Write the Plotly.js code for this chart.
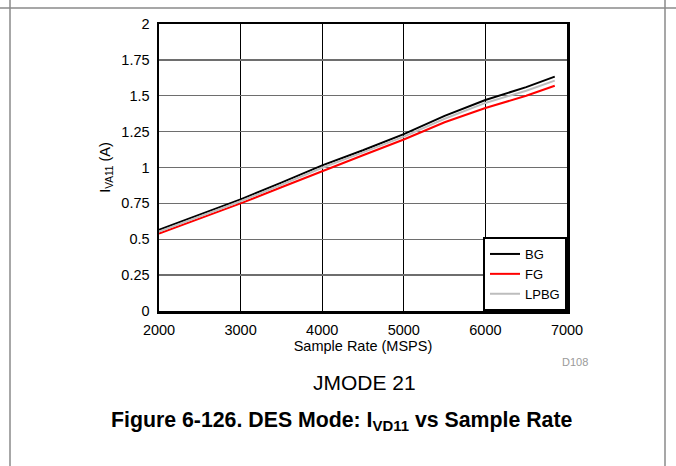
<!DOCTYPE html>
<html>
<head>
<meta charset="utf-8">
<script src="https://cdn.plot.ly/plotly-3.0.1.min.js"></script>
<style>html,body{margin:0;padding:0;background:#fff;}#chart{width:676px;height:466px;}</style>
</head>
<body>
<div id="chart"></div>
<script>
const sampleRate = [2000, 2500, 3000, 3500, 4000, 4500, 5000, 5500, 6000, 6500, 6850];
const bg   = [0.565, 0.670, 0.778, 0.895, 1.015, 1.120, 1.233, 1.360, 1.470, 1.560, 1.633];
const fg   = [0.540, 0.645, 0.750, 0.862, 0.975, 1.085, 1.195, 1.315, 1.415, 1.500, 1.570];
const lpbg = [0.553, 0.660, 0.765, 0.880, 0.998, 1.105, 1.215, 1.340, 1.450, 1.535, 1.605];
const seriesNames = ['BG', 'FG', 'LPBG'];
const xTicks = [2000, 3000, 4000, 5000, 6000, 7000];
const yTicks = [0, 0.25, 0.5, 0.75, 1, 1.25, 1.5, 1.75, 2];
const yTickText = ['0', '0.25', '0.5', '0.75', '1', '1.25', '1.5', '1.75', '2'];

const FONT = 'Liberation Sans, Arial, sans-serif';
const L = 159, R = 567, T = 24, B = 311, W = 676, H = 466;
const px = v => (v - L) / (R - L);
const py = v => (B - v) / (B - T);

const traces = [
  {x: sampleRate, y: bg,   name: seriesNames[0], mode: 'lines', line: {color: '#000000', width: 2}},
  {x: sampleRate, y: fg,   name: seriesNames[1], mode: 'lines', line: {color: '#ff0000', width: 2}},
  {x: sampleRate, y: lpbg, name: seriesNames[2], mode: 'lines', line: {color: '#bdbdbd', width: 2}}
];
const layout = {
  width: W, height: H,
  margin: {l: L, r: W - R, t: T, b: H - B},
  paper_bgcolor: '#ffffff', plot_bgcolor: '#ffffff',
  font: {family: FONT, size: 14, color: '#000'},
  showlegend: true,
  legend: {
    x: 1, y: 0, xanchor: 'right', yanchor: 'bottom',
    bgcolor: '#ffffff', bordercolor: '#000000', borderwidth: 2,
    font: {family: FONT, size: 13, color: '#000'},
    itemwidth: 30, tracegroupgap: 0
  },
  xaxis: {
    range: [2000, 7000], tickvals: xTicks, ticks: '', ticklabelstandoff: 4,
    showgrid: true, gridcolor: '#000000', gridwidth: 1,
    showline: true, linecolor: '#000', linewidth: 2.5, mirror: true,
    zeroline: false, tickfont: {family: FONT, size: 14.5, color: '#000'},
    title: {text: 'Sample Rate (MSPS)', font: {family: FONT, size: 14.5, color: '#000'}, standoff: 0}
  },
  yaxis: {
    range: [0, 2], tickvals: yTicks, ticktext: yTickText, ticks: '', ticklabelstandoff: 4,
    showgrid: true, gridcolor: '#6e6e6e', gridwidth: 1.3,
    showline: true, linecolor: '#000', linewidth: 2.5, mirror: true,
    zeroline: false, tickfont: {family: FONT, size: 14.5, color: '#000'},
    title: {text: 'I<sub>VA11</sub> (A)', font: {family: FONT, size: 14.5, color: '#000'}, standoff: 8}
  },
  shapes: [
    {type: 'line', xref: 'paper', yref: 'paper', x0: px(0), x1: px(676), y0: py(8), y1: py(8), line: {color: '#8a8a8a', width: 1.5}},
    {type: 'line', xref: 'paper', yref: 'paper', x0: px(10), x1: px(10), y0: py(0), y1: py(466), line: {color: '#8a8a8a', width: 1.5}},
    {type: 'line', xref: 'paper', yref: 'paper', x0: px(665), x1: px(665), y0: py(0), y1: py(466), line: {color: '#8a8a8a', width: 1.5}}
  ],
  annotations: [
    {xref: 'paper', yref: 'paper', x: px(590), y: py(362), xanchor: 'right', yanchor: 'middle', showarrow: false,
     text: 'D108', font: {family: FONT, size: 11, color: '#9a9a9a'}},
    {xref: 'paper', yref: 'paper', x: px(364), y: py(382), xanchor: 'center', yanchor: 'middle', showarrow: false,
     text: 'JMODE 21', font: {family: FONT, size: 21, color: '#000'}},
    {xref: 'paper', yref: 'paper', x: px(342), y: py(421), xanchor: 'center', yanchor: 'middle', showarrow: false,
     text: '<b>Figure 6-126. DES Mode: I<sub>VD11</sub> vs Sample Rate</b>', font: {family: FONT, size: 21.3, color: '#000'}}
  ]
};
Plotly.newPlot('chart', traces, layout, {displayModeBar: false, staticPlot: true});
</script>
</body>
</html>
